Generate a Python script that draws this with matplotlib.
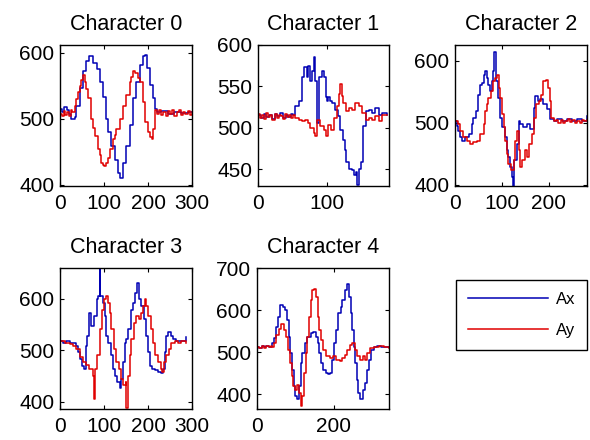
import matplotlib
matplotlib.use('Agg')
import matplotlib.pyplot as plt

plt.rcParams['font.family'] = ['Liberation Sans', 'DejaVu Sans']

titles = ['Character 0', 'Character 1', 'Character 2', 'Character 3', 'Character 4']
series_names = ['Ax', 'Ay']

# --- Character 0 ---
c0_ax_t = [0, 5, 10, 15, 20, 26, 33, 37, 45, 52, 60, 67, 75, 83, 90, 98, 105, 109, 117, 124,
           132, 136, 143, 151, 158, 166, 173, 181, 189, 194, 198, 204, 211, 215, 220, 230, 245,
           260, 275, 290, 300]
c0_ax_v = [515, 511, 518, 513, 508, 500, 503, 520, 546, 572, 587, 595, 585, 575, 556, 533, 500, 480, 459, 438,
           418, 410, 433, 459, 490, 531, 556, 582, 595, 597, 577, 551, 531, 515, 510, 512, 508,
           511, 509, 511, 510]
c0_ay_t = [0, 4, 8, 12, 16, 20, 24, 28, 33, 37, 41, 45, 48, 52, 56, 60, 64, 71, 75, 79,
           86, 90, 94, 98, 101, 105, 109, 113, 120, 124, 128, 136, 143, 151, 158, 162, 166, 170, 173, 177,
           181, 189, 194, 200, 204, 208, 211, 215, 220, 225, 230, 235, 240, 245, 250, 255, 260, 265,
           270, 275, 280, 285, 290, 295, 300]
c0_ay_v = [508, 505, 512, 506, 510, 504, 513, 510, 520, 530, 541, 550, 559, 566, 556, 545, 531, 500, 486, 474,
           454, 445, 433, 430, 428, 433, 440, 454, 469, 475, 485, 500, 520, 536, 556, 563, 572, 570, 569, 562,
           556, 526, 495, 480, 472, 469, 485, 513, 508, 513, 506, 511, 504, 512, 507, 514, 505, 510,
           513, 506, 511, 508, 512, 506, 510]

# --- Character 1 ---
c1_ax_t = [0, 4, 8, 12, 16, 20, 24, 28, 32, 36, 40, 44, 48, 51, 54, 59, 64, 66, 71, 73,
           76, 78, 81, 83, 85, 88, 93, 95, 98, 100, 102, 105, 108, 112, 116, 119, 123, 126, 128, 132,
           136, 139, 142, 144, 146, 150, 152, 156, 161, 166, 170, 175, 180, 187]
c1_ax_v = [515, 512, 517, 513, 516, 511, 517, 514, 518, 512, 516, 513, 517, 515, 526, 533, 561, 573, 561, 575,
           557, 569, 585, 557, 506, 561, 569, 561, 537, 533, 537, 533, 530, 522, 514, 498, 486, 474, 459, 451,
           449, 443, 447, 431, 451, 459, 502, 520, 522, 518, 524, 516, 518, 516]
c1_ay_t = [0, 3, 6, 9, 12, 15, 18, 21, 24, 27, 30, 33, 36, 39, 42, 45, 48, 51, 54, 59,
           64, 68, 73, 76, 81, 83, 85, 90, 95, 99, 102, 106, 110, 115, 117, 119, 122, 124, 127, 132,
           136, 141, 146, 151, 156, 161, 166, 170, 175, 180, 187]
c1_ay_v = [517, 512, 516, 511, 518, 513, 515, 510, 517, 512, 516, 514, 511, 517, 513, 516, 512, 515, 512, 510,
           508, 510, 506, 500, 494, 490, 510, 502, 498, 490, 504, 498, 512, 526, 541, 553, 539, 530, 520, 524,
           522, 530, 526, 518, 510, 512, 510, 514, 508, 516, 515]

# --- Character 2 ---
c2_ax_t = [0, 4, 7, 11, 14, 21, 29, 36, 39, 44, 49, 54, 57, 61, 64, 68, 71, 75, 79, 82,
           84, 87, 91, 96, 100, 106, 111, 114, 118, 121, 123, 127, 132, 136, 139, 146, 154, 161, 168, 171,
           177, 182, 189, 196, 204, 211, 218, 229, 239, 250, 261, 271, 282]
c2_ax_v = [503, 495, 487, 477, 471, 477, 482, 498, 508, 519, 545, 561, 564, 577, 583, 572, 561, 551, 567, 583,
           614, 567, 540, 508, 493, 477, 456, 445, 429, 413, 397, 440, 466, 503, 498, 493, 498, 490, 524, 543,
           535, 538, 530, 522, 506, 503, 506, 503, 506, 503, 506, 503, 511]
c2_ay_t = [0, 6, 11, 18, 25, 32, 39, 46, 54, 61, 64, 68, 71, 77, 82, 86, 89, 93, 96, 100,
           104, 107, 111, 114, 120, 125, 129, 132, 136, 139, 143, 149, 154, 159, 164, 168, 173, 179, 184, 189,
           194, 199, 202, 206, 211, 216, 221, 226, 231, 236, 241, 246, 251, 256, 261, 266, 271, 276, 282]
c2_ay_v = [503, 498, 487, 477, 471, 466, 469, 471, 482, 498, 519, 530, 540, 551, 567, 572, 577, 556, 540, 514,
           493, 471, 450, 434, 424, 440, 471, 487, 456, 429, 440, 456, 445, 466, 482, 508, 530, 535, 545, 567,
           569, 556, 535, 508, 503, 505, 500, 504, 499, 503, 506, 501, 504, 499, 503, 500, 505, 502, 504]

# --- Character 3 ---
c3_ax_t = [0, 7, 14, 22, 30, 37, 41, 45, 50, 55, 58, 62, 67, 71, 77, 83, 86, 90, 92, 98,
           102, 105, 109, 115, 120, 126, 130, 136, 139, 143, 147, 151, 155, 161, 166, 171, 176, 180, 185, 191,
           196, 200, 204, 208, 215, 223, 229, 234, 238, 242, 245, 253, 257, 264, 276, 287]
c3_ax_v = [519, 515, 519, 515, 515, 509, 496, 483, 470, 464, 509, 528, 573, 547, 567, 599, 605, 658, 605, 592,
           567, 528, 515, 490, 464, 451, 438, 426, 445, 477, 515, 522, 541, 579, 592, 612, 631, 599, 586, 560,
           528, 496, 470, 464, 461, 458, 455, 464, 496, 528, 535, 528, 522, 519, 519, 525]
c3_ay_t = [0, 11, 22, 30, 37, 45, 52, 60, 67, 75, 77, 80, 85, 90, 95, 100, 105, 109, 113, 117,
           123, 128, 133, 138, 143, 149, 151, 155, 158, 162, 168, 173, 179, 185, 189, 193, 196, 200, 206, 211,
           217, 223, 229, 232, 236, 242, 247, 253, 261, 268, 276, 286]
c3_ay_v = [519, 515, 512, 509, 503, 487, 477, 471, 464, 451, 406, 464, 490, 541, 579, 599, 605, 592, 573, 541,
           503, 477, 464, 445, 432, 438, 387, 451, 490, 522, 554, 567, 560, 573, 586, 599, 586, 567, 541, 515,
           490, 477, 464, 458, 477, 490, 503, 515, 519, 515, 519, 515]

# --- Character 4 ---
c4_ax_t = [0, 6, 12, 18, 24, 30, 34, 39, 43, 49, 55, 61, 67, 74, 78, 83, 87, 92, 96, 100,
           105, 109, 114, 118, 125, 131, 140, 146, 153, 158, 162, 166, 171, 178, 184, 190, 196, 199, 204, 210,
           217, 222, 228, 234, 240, 244, 248, 252, 255, 259, 263, 268, 275, 281, 287, 292, 296, 303, 312, 321,
           334, 343]
c4_ax_v = [513, 511, 515, 512, 514, 512, 513, 521, 533, 560, 584, 611, 607, 600, 576, 537, 498, 458, 419, 396,
           388, 419, 474, 498, 521, 537, 545, 549, 537, 521, 498, 474, 458, 451, 447, 451, 482, 521, 553, 592,
           607, 623, 647, 662, 631, 592, 553, 513, 474, 435, 404, 388, 411, 427, 458, 482, 505, 513, 515, 512,
           513, 512]
c4_ay_t = [0, 6, 12, 18, 24, 30, 36, 39, 43, 49, 56, 63, 69, 76, 81, 85, 90, 93, 99, 105,
           109, 114, 118, 122, 127, 131, 136, 140, 144, 149, 153, 158, 162, 166, 171, 180, 189, 197, 206, 215,
           222, 228, 234, 241, 248, 254, 261, 268, 275, 281, 287, 294, 303, 316, 329, 343]
c4_ay_v = [513, 510, 514, 511, 515, 512, 514, 513, 521, 541, 556, 568, 553, 537, 505, 474, 443, 419, 411, 423,
           404, 372, 396, 451, 498, 537, 584, 623, 647, 651, 631, 584, 553, 529, 505, 490, 486, 490, 482, 478,
           486, 494, 505, 517, 521, 505, 490, 482, 490, 482, 498, 509, 513, 515, 513, 511]

x_limits = [(0, 300), (0, 190), (0, 282), (0, 300), (0, 343)]
y_limits = [(398, 612), (430, 600), (398, 625), (386, 660), (365, 700)]
x_ticks = [[0, 100, 200, 300], [0, 100], [0, 100, 200], [0, 100, 200, 300], [0, 200]]
y_ticks = [[400, 500, 600], [450, 500, 550, 600], [400, 500, 600], [400, 500, 600],
           [400, 500, 600, 700]]

data = [(c0_ax_t, c0_ax_v, c0_ay_t, c0_ay_v),
        (c1_ax_t, c1_ax_v, c1_ay_t, c1_ay_v),
        (c2_ax_t, c2_ax_v, c2_ay_t, c2_ay_v),
        (c3_ax_t, c3_ax_v, c3_ay_t, c3_ay_v),
        (c4_ax_t, c4_ax_v, c4_ay_t, c4_ay_v)]

W, H = 590, 440
# axes boxes in pixels: left, top, right, bottom
boxes = [(60, 45, 192, 186), (258, 45, 389, 186), (455, 45, 587, 186),
         (60, 268, 192, 409), (257, 268, 389, 409)]

fig = plt.figure(figsize=(W / 100, H / 100), dpi=100)
fig.patch.set_facecolor('white')

handles = None
for i, (l, t, r, b) in enumerate(boxes):
    ax = fig.add_axes([l / W, 1 - b / H, (r - l) / W, (b - t) / H])
    axt, axv, ayt, ayv = data[i]
    h1, = ax.plot(axt, axv, color='#0000b4', lw=1.1, drawstyle='steps-post')
    h2, = ax.plot(ayt, ayv, color='#e00000', lw=1.1, drawstyle='steps-post')
    handles = [h1, h2]
    ax.set_xlim(*x_limits[i])
    ax.set_ylim(*y_limits[i])
    ax.set_xticks(x_ticks[i])
    ax.set_yticks(y_ticks[i])
    ax.tick_params(direction='in', length=3, width=0.8, top=True, right=True,
                   labelsize=15)
    ax.tick_params(axis='x', pad=6)
    ax.tick_params(axis='y', pad=4)
    for s in ax.spines.values():
        s.set_linewidth(1.0)
        s.set_color('black')
    ax.set_title(titles[i], fontsize=15.5, pad=11)

leg = fig.legend(handles, series_names, loc='upper left',
                 bbox_to_anchor=(456 / W, 1 - 280 / H), fontsize=12,
                 handlelength=4.8, labelspacing=1.0, borderpad=0.7,
                 handletextpad=0.5, fancybox=False, framealpha=1,
                 edgecolor='black', borderaxespad=0)
leg.get_frame().set_linewidth(1.0)
for ln in leg.get_lines():
    ln.set_linewidth(1.1)

fig.savefig('out.png', dpi=100)
